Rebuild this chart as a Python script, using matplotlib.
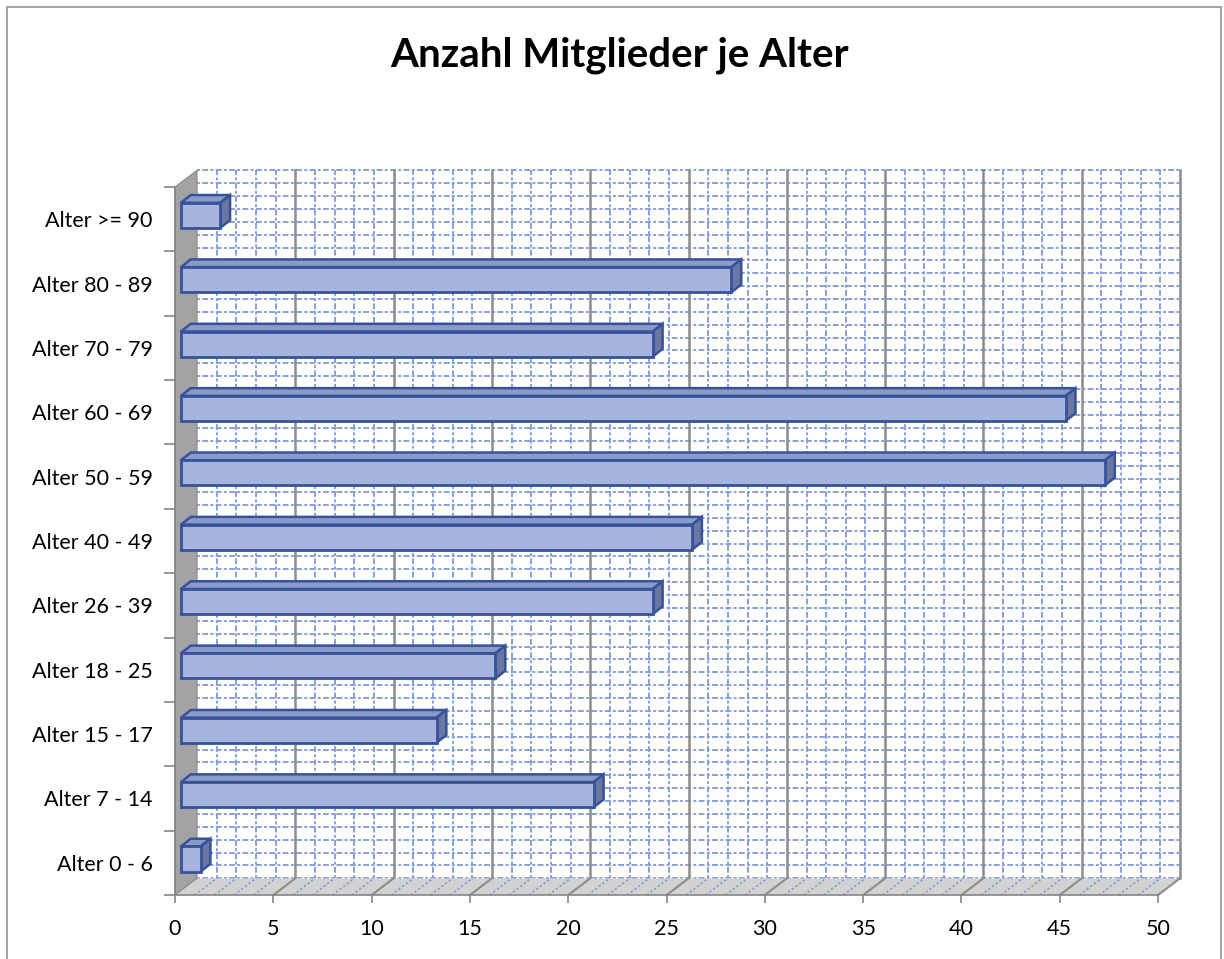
import numpy as np
import matplotlib.pyplot as plt
from matplotlib.patches import Polygon, Rectangle

# data
categories = ['Alter 0 - 6', 'Alter 7 - 14', 'Alter 15 - 17', 'Alter 18 - 25',
              'Alter 26 - 39', 'Alter 40 - 49', 'Alter 50 - 59', 'Alter 60 - 69',
              'Alter 70 - 79', 'Alter 80 - 89', 'Alter >= 90']
members = [1, 21, 13, 16, 24, 26, 47, 45, 24, 28, 2]
x_ticks = list(range(0, 51, 5))

plt.rcParams['font.family'] = ['Lato', 'DejaVu Sans']

fig = plt.figure(figsize=(12.24, 9.59), dpi=100)
# grey frame around the chart area (bottom edge is cut off in the original)
fig.patches.append(Rectangle((0.0057, -0.02), 0.9918, 1.0127, transform=fig.transFigure,
                             fill=False, ec='#a6a6a6', lw=1.5))
fig.text(0.5065, 0.9426, 'Anzahl Mitglieder je Alter', ha='center', va='center',
         fontsize=29, fontweight='bold')

ax = fig.add_axes([0.143, 0.0667, 0.8031, 0.7383])
n = len(categories)
xmax = x_ticks[-1]
ax.set_xlim(0, xmax)
ax.set_ylim(-0.5, n - 0.5)

dx, dy = 1.12, 0.26   # depth of the 3d box
y0, y1 = -0.5, n - 0.5
grey = '#868686'
dot_blue = '#86a0dc'

# back wall
ax.add_patch(Polygon([(dx, y0 + dy), (xmax + dx, y0 + dy), (xmax + dx, y1 + dy), (dx, y1 + dy)],
                     closed=True, fc='white', ec='none', zorder=0.5, clip_on=False))
# minor grid on back wall
for xv in np.arange(1, xmax + 1, 1):
    if xv % 5:
        ax.plot([xv + dx, xv + dx], [y0 + dy, y1 + dy], ls=(0, (1.5, 1.2, 3, 1.2)), lw=1.4,
                color=dot_blue, zorder=0.6, clip_on=False)
for yv in np.arange(y0, y1 + 0.01, 0.2):
    ax.plot([dx, xmax + dx], [yv + dy, yv + dy], ls=(0, (1.5, 1.2, 3, 1.2)), lw=1.4,
            color=dot_blue, zorder=0.6, clip_on=False)
# major grid on back wall
for xv in x_ticks[1:]:
    ax.plot([xv + dx, xv + dx], [y0 + dy, y1 + dy], color='#8c8c8c', lw=1.8,
            zorder=0.65, clip_on=False)

# floor
ax.add_patch(Polygon([(0, y0), (xmax, y0), (xmax + dx, y0 + dy), (dx, y0 + dy)],
                     closed=True, fc='#d2d2d2', ec='none', zorder=0.7, clip_on=False))
for xv in np.arange(1, xmax + 1, 1):
    if xv % 5:
        ax.plot([xv, xv + dx], [y0, y0 + dy], ls=(0, (1.5, 1.5)), lw=1.1,
                color='#8296c8', zorder=0.75, clip_on=False)
for xv in x_ticks[1:]:
    ax.plot([xv, xv + dx], [y0, y0 + dy], color='#8c8c8c', lw=1.5, zorder=0.76, clip_on=False)

# left side wall
ax.add_patch(Polygon([(0, y0), (dx, y0 + dy), (dx, y1 + dy), (0, y1)],
                     closed=True, fc='#a3a3a3', ec='#8a8a8a', lw=0.8, zorder=0.8, clip_on=False))

# bars as boxes
bx = 0.3          # gap between wall and bar front
h = 0.39          # bar thickness
yc = 0.06
ddx, ddy = 0.5, 0.12
edge = '#36539a'
for i, v in enumerate(members):
    xa, xb = bx, bx + v
    ya, yb = i + yc - h / 2, i + yc + h / 2
    top = [(xa, yb), (xb, yb), (xb + ddx, yb + ddy), (xa + ddx, yb + ddy)]
    side = [(xb, ya), (xb, yb), (xb + ddx, yb + ddy), (xb + ddx, ya + ddy)]
    ax.add_patch(Polygon(top, closed=True, fc='#8c9ac8', ec=edge, lw=1.8, zorder=3, clip_on=False))
    ax.add_patch(Polygon(side, closed=True, fc='#6b76a2', ec=edge, lw=1.8, zorder=3, clip_on=False))
    ax.add_patch(Rectangle((xa, ya), v, h, fc='#a7b4de', ec=edge, lw=2.0, zorder=3.1, clip_on=False))

# axes lines and ticks
for s in ['top', 'right']:
    ax.spines[s].set_visible(False)
for s in ['left', 'bottom']:
    ax.spines[s].set_color(grey)
    ax.spines[s].set_linewidth(1.2)
    ax.spines[s].set_zorder(2)
ax.patch.set_visible(False)

ax.set_xticks(x_ticks)
ax.set_xticklabels([str(t) for t in x_ticks])
ax.tick_params(axis='x', length=6, width=1.2, color=grey, pad=11, labelsize=15.5)
ax.set_yticks(range(n))
ax.set_yticklabels(categories)
ax.set_yticks(np.arange(-0.5, n, 1), minor=True)
ax.tick_params(axis='y', which='major', length=0, pad=16, labelsize=15.5)
ax.tick_params(axis='y', which='minor', length=8, width=1.2, color=grey)

fig.savefig('out.png', dpi=100)
